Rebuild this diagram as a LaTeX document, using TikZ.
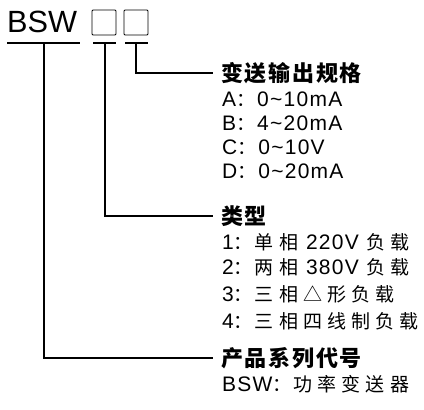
\documentclass[tikz,border=0pt]{standalone}
\usepackage{fontspec}
\setmainfont{Liberation Sans}
\newfontfamily\lat[LetterSpace=6]{Liberation Sans}
\newfontfamily\cjk[LetterSpace=27]{Noto Sans CJK SC}
\newfontfamily\cjkh[LetterSpace=8]{Noto Sans CJK SC}
\newcommand{\cj}[1]{{\cjk\fontsize{19}{22}\selectfont #1}}
\begin{document}
\begin{tikzpicture}[x=1pt,y=-1pt,
  conn/.style={line width=1.2pt},
  box/.style={draw, line width=0.9pt, rounded corners=1pt, minimum width=24pt, minimum height=25pt, inner sep=0pt},
  head/.style={anchor=base west, inner sep=0pt, font=\cjkh\bfseries\fontsize{22}{26}\selectfont},
  item/.style={anchor=base west, inner sep=0pt, font=\lat\fontsize{21}{25}\selectfont},
  title/.style={anchor=base west, inner sep=0pt, font=\fontsize{30.7}{36}\selectfont}]
\useasboundingbox (0,0) rectangle (424,410);
% title
\node[title] (bsw) at (7,32) {BSW};
\node[box] (b1) at (104,22.5) {};
\node[box] (b2) at (136,22.5) {};
% underline coordinates
\coordinate (u0a) at (7,43);  \coordinate (u0b) at (80,43);
\coordinate (u1a) at (93,43); \coordinate (u1b) at (116,43);
\coordinate (u2a) at (125,43);\coordinate (u2b) at (148,43);
\coordinate (t0) at (44,43);
\coordinate (t1) at (105,43);
\coordinate (t2) at (136,43);
\coordinate (e1) at (213,73);
\coordinate (e2) at (213,216);
\coordinate (e3) at (213,358);
\draw[conn] (u0a) -- (u0b);
\draw[conn] (u1a) -- (u1b);
\draw[conn] (u2a) -- (u2b);
\draw[conn] (t2) |- (e1);
\draw[conn] (t1) |- (e2);
\draw[conn] (t0) |- (e3);
% group 1
\node[head] (h1) at (221,81) {变送输出规格};
\node[item] (ia) at (222,106) {A\cj{：}\hspace{2pt}0\textasciitilde10mA};
\node[item] (ib) at (222,130) {B\cj{：}\hspace{2pt}4\textasciitilde20mA};
\node[item] (ic) at (222,154) {C\cj{：}\hspace{2pt}0\textasciitilde10V};
\node[item] (id) at (222,178) {D\cj{：}\hspace{2pt}0\textasciitilde20mA};
% group 2
\node[head] (h2) at (221,224) {类型};
\node[item] (i1) at (222,249) {1\cj{：}\hspace{2pt}\cj{单相}\hspace{8pt}220V\hspace{8pt}\cj{负载}};
\node[item] (i2) at (222,274) {2\cj{：}\hspace{2pt}\cj{两相}\hspace{8pt}380V\hspace{8pt}\cj{负载}};
\node[item] (i3) at (222,301) {3\cj{：}\hspace{2pt}\cj{三相△形负载}};
\node[item] (i4) at (222,328) {4\cj{：}\hspace{2pt}\cj{三相四线制负载}};
% group 3
\node[head] (h3) at (221,366) {产品系列代号};
\node[item] (i5) at (222,391) {BSW\cj{：}\hspace{2pt}\cj{功率变送器}};
\end{tikzpicture}
\end{document}
